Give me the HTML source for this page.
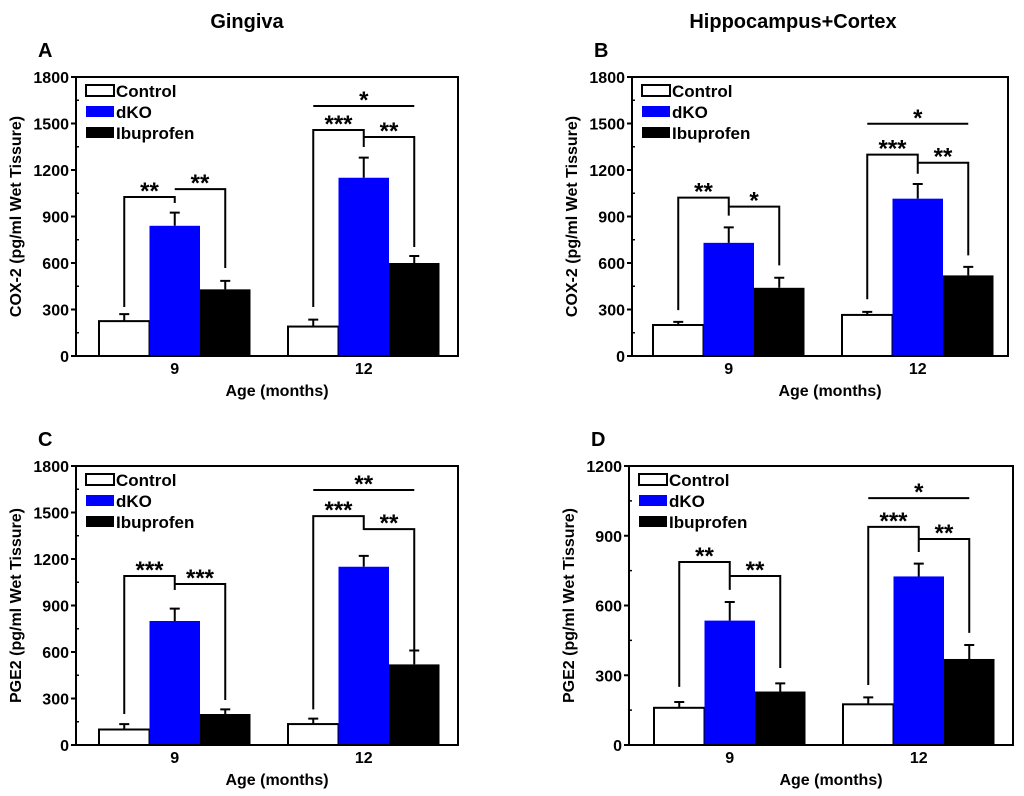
<!DOCTYPE html>
<html><head><meta charset="utf-8"><style>
body{margin:0;background:#fff;}
svg{display:block;font-family:"Liberation Sans",Arial,sans-serif;font-weight:bold;}
</style></head><body>
<svg id="fig" width="1024" height="796" viewBox="0 0 1024 796">
<text x="247" y="28" font-size="20" text-anchor="middle">Gingiva</text>
<text x="793" y="28" font-size="20" text-anchor="middle">Hippocampus+Cortex</text>
</svg>
<script>
// Data arrays
const groups = ["9", "12"];
const seriesNames = ["Control", "dKO", "Ibuprofen"];
const seriesColors = ["#ffffff", "#0000ff", "#000000"];
const aVals = [[225, 840, 430], [190, 1150, 600]];
const aErrs = [[45, 85, 55], [45, 130, 45]];
const bVals = [[200, 730, 440], [265, 1015, 520]];
const bErrs = [[20, 100, 65], [20, 95, 55]];
const cVals = [[100, 800, 200], [135, 1150, 520]];
const cErrs = [[35, 80, 30], [35, 70, 90]];
const dVals = [[160, 535, 230], [175, 725, 370]];
const dErrs = [[25, 80, 35], [30, 55, 60]];
// brackets per group: [leftLow, leftTop, midLow, rightTop, rightLow, topLine(or null)]
const aBr = [[316, 1026, 987, 1077, 568, null], [316, 1458, 1348, 1413, 703, 1613]];
const bBr = [[296, 1022, 906, 964, 585, null], [366, 1299, 1176, 1247, 649, 1498]];
const cBr = [[200, 1090, 1000, 1039, 290, null], [230, 1477, 1387, 1393, 613, 1645]];
const dBr = [[250, 787, 667, 727, 331, null], [258, 938, 830, 886, 482, 1062]];
const aStars = [["**", "**"], ["***", "**", "*"]];
const bStars = [["**", "*"], ["***", "**", "*"]];
const cStars = [["***", "***"], ["***", "**", "**"]];
const dStars = [["**", "**"], ["***", "**", "*"]];
const ticks1800 = [0, 300, 600, 900, 1200, 1500, 1800];
const ticks1200 = [0, 300, 600, 900, 1200];

const NS = "http://www.w3.org/2000/svg";
const svg = document.getElementById("fig");
function el(tag, attrs, parent, text) {
  const e = document.createElementNS(NS, tag);
  for (const k in attrs) e.setAttribute(k, attrs[k]);
  if (text !== undefined) e.textContent = text;
  (parent || svg).appendChild(e);
  return e;
}

function panel(cfg) {
  const g = el("g", {});
  
  
  const L = cfg.left, R = cfg.right, T = cfg.top, B = cfg.bottom, max = cfg.max;
  const y = v => B - v / max * (B - T);
  const slotW = 50.5;
  const x = (gi, si) => cfg.groupStart[gi] + si * slotW;
  const lt = el("text", {x: L - 38, y: T - 20, "font-size": 20}, g, cfg.letter);
  
  
  cfg.vals.forEach((gv, gi) => gv.forEach((v, si) => {
    const bx = x(gi, si), cx = bx + slotW / 2, e = cfg.errs[gi][si];
    const eb = el("path", {d: `M${cx},${y(v)}V${y(v + e)}M${cx - 5},${y(v + e)}H${cx + 5}`, stroke: "#000", "stroke-width": 2, fill: "none"}, g);
    
    
    const r = el("rect", {x: bx, y: y(v), width: slotW, height: B - y(v), fill: seriesColors[si],
      stroke: si === 0 ? "#000" : "none", "stroke-width": 2}, g);
    
    
  }));
  cfg.br.forEach((b, gi) => {
    const c0 = x(gi, 0) + slotW / 2, c1 = x(gi, 1) + slotW / 2, c2 = x(gi, 2) + slotW / 2;
    const p = el("path", {d: `M${c0},${y(b[0])}V${y(b[1])}H${c1}V${y(b[2])}M${c1},${y(b[3])}H${c2}V${y(b[4])}`,
      stroke: "#000", "stroke-width": 2, fill: "none"}, g);
    
    
    const st = cfg.stars[gi];
    const s1 = el("text", {x: (c0 + c1) / 2, y: y(b[1]) + 2, "font-size": 24, "text-anchor": "middle"}, g, st[0]);
    
    
    const s2 = el("text", {x: (c1 + c2) / 2, y: y(b[3]) + 2, "font-size": 24, "text-anchor": "middle"}, g, st[1]);
    
    
    if (b[5] !== null) {
      const tl = el("path", {d: `M${c0},${y(b[5])}H${c2}`, stroke: "#000", "stroke-width": 2}, g);
      
      
      const s3 = el("text", {x: (c0 + c2) / 2, y: y(b[5]) + 2, "font-size": 24, "text-anchor": "middle"}, g, st[2]);
      
      
    }
  });
  const fr = el("rect", {x: L, y: T, width: R - L, height: B - T, fill: "none", stroke: "#000", "stroke-width": 2}, g);
  
  
  cfg.ticks.forEach((t, i) => {
    const tk = el("path", {d: `M${L - 5},${y(t)}H${L}`, stroke: "#000", "stroke-width": 2}, g);
    
    
    const tl = el("text", {x: L - 7, y: y(t) + 6, "font-size": 16, "text-anchor": "end"}, g, String(t));
    
    
    if (i < cfg.ticks.length - 1) {
      const mt = (t + cfg.ticks[i + 1]) / 2;
      const mk = el("path", {d: `M${L},${y(mt)}H${L + 3}`, stroke: "#000", "stroke-width": 1.5}, g);
      
      
    }
  });
  groups.forEach((gn, gi) => {
    const gx = x(gi, 1) + slotW / 2;
    const gt = el("text", {x: gx, y: B + 18, "font-size": 16, "text-anchor": "middle"}, g, gn);
    
    
  });
  const xt = el("text", {x: (L + R) / 2 + 10, y: B + 40, "font-size": 16, "text-anchor": "middle"}, g, "Age (months)");
  
  
  const cy = (T + B) / 2;
  const yt = el("text", {x: L - 55, y: cy, "font-size": 16, "text-anchor": "middle", transform: `rotate(-90 ${L - 55} ${cy})`}, g, cfg.ylabel);
  
  
  seriesNames.forEach((n, i) => {
    const ly = T + 8 + i * 21;
    const lr = el("rect", {x: L + 10, y: ly, width: 28, height: 11, fill: seriesColors[i], stroke: i === 0 ? "#000" : "none", "stroke-width": 2}, g);
    
    
    const lt2 = el("text", {x: L + 40, y: ly + 12, "font-size": 17}, g, n);
    
    
  });
}

panel({letter: "A", left: 76, right: 458, top: 77, bottom: 356, max: 1800, groupStart: [99, 288], vals: aVals, errs: aErrs, br: aBr, stars: aStars, ticks: ticks1800, ylabel: "COX-2 (pg/ml Wet Tissure)"});
panel({letter: "B", left: 632, right: 1008, top: 77, bottom: 356, max: 1800, groupStart: [653, 842], vals: bVals, errs: bErrs, br: bBr, stars: bStars, ticks: ticks1800, ylabel: "COX-2 (pg/ml Wet Tissure)"});
panel({letter: "C", left: 76, right: 458, top: 466, bottom: 745, max: 1800, groupStart: [99, 288], vals: cVals, errs: cErrs, br: cBr, stars: cStars, ticks: ticks1800, ylabel: "PGE2 (pg/ml Wet Tissure)"});
panel({letter: "D", left: 629, right: 1013, top: 466, bottom: 745, max: 1200, groupStart: [654, 843], vals: dVals, errs: dErrs, br: dBr, stars: dStars, ticks: ticks1200, ylabel: "PGE2 (pg/ml Wet Tissure)"});
</script>
</body></html>
